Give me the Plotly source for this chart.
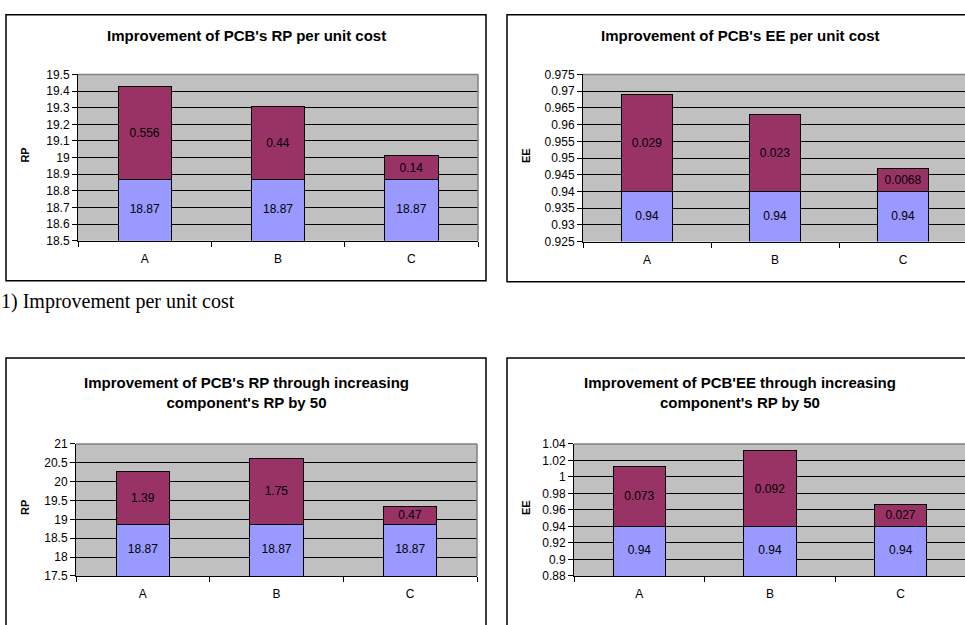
import plotly.graph_objects as go

W, H = 965, 625

categories = ["A", "B", "C"]

rp_cost_base = [18.87, 18.87, 18.87]
rp_cost_gain = [0.556, 0.44, 0.14]
ee_cost_base = [0.94, 0.94, 0.94]
ee_cost_gain = [0.029, 0.023, 0.0068]
rp_inc_base = [18.87, 18.87, 18.87]
rp_inc_gain = [1.39, 1.75, 0.47]
ee_inc_base = [0.94, 0.94, 0.94]
ee_inc_gain = [0.073, 0.092, 0.027]

base_labels_rp = ["18.87", "18.87", "18.87"]
gain_labels_rp_cost = ["0.556", "0.44", "0.14"]
base_labels_ee = ["0.94", "0.94", "0.94"]
gain_labels_ee_cost = ["0.029", "0.023", "0.0068"]
gain_labels_rp_inc = ["1.39", "1.75", "0.47"]
gain_labels_ee_inc = ["0.073", "0.092", "0.027"]

titles = [
    "Improvement of PCB's RP per unit cost",
    "Improvement of PCB's EE per unit cost",
    "Improvement of PCB's RP through increasing<br>component's RP by 50",
    "Improvement of PCB'EE through increasing<br>component's RP by 50",
]
ytitles = ["RP", "EE", "RP", "EE"]
caption = "1) Improvement per unit cost"

BLUE = "#9999FF"
PLUM = "#993366"
GRID = "#C0C0C0"
FONT = "Liberation Sans, Arial, sans-serif"

def px(x):
    return x / W

def py(y):
    return 1 - y / H

panels = [
    dict(pa=(78, 478, 69, 239), yr=(18.5, 19.5), dt=0.1, box=(6, 486, 8, 280),
         base=rp_cost_base, gain=rp_cost_gain, bl=base_labels_rp, gl=gain_labels_rp_cost, ty=29, ytx=25),
    dict(pa=(583, 967, 69, 240), yr=(0.925, 0.975), dt=0.005, box=(507, 973, 8, 281),
         base=ee_cost_base, gain=ee_cost_gain, bl=base_labels_ee, gl=gain_labels_ee_cost, ty=29, ytx=526),
    dict(pa=(76, 477, 447, 582), yr=(17.5, 21), dt=0.5, box=(6, 486, 359, 640),
         base=rp_inc_base, gain=rp_inc_gain, bl=base_labels_rp, gl=gain_labels_rp_inc, ty=394, ytx=25),
    dict(pa=(574, 966, 447, 582), yr=(0.88, 1.04), dt=0.02, box=(507, 973, 359, 640),
         base=ee_inc_base, gain=ee_inc_gain, bl=base_labels_ee, gl=gain_labels_ee_inc, ty=394, ytx=526),
]

fig = go.Figure()
shapes = []
annotations = []

for i, p in enumerate(panels):
    n = "" if i == 0 else str(i + 1)
    xa, ya = "x" + n, "y" + n
    x0, x1, yt, yb = p["pa"]
    spacing = (x1 - x0) / 3.0
    visible_right = min(x1, W)
    xmax = -0.5 + (visible_right - x0) / spacing
    ymin = p["yr"][0]

    fig.add_trace(go.Bar(
        x=categories, y=p["base"], xaxis=xa, yaxis=ya,
        marker=dict(color=BLUE, line=dict(color="#000000", width=1)),
        width=0.4, showlegend=False, hoverinfo="skip",
    ))
    fig.add_trace(go.Bar(
        x=categories, y=p["gain"], xaxis=xa, yaxis=ya,
        marker=dict(color=PLUM, line=dict(color="#000000", width=1)),
        text=p["gl"], textposition="inside", insidetextanchor="middle",
        textfont=dict(family=FONT, size=12, color="#000000"),
        constraintext="none", width=0.4, showlegend=False, hoverinfo="skip",
    ))
    fig.add_trace(go.Scatter(
        x=categories, y=[(ymin + b) / 2.0 for b in p["base"]], xaxis=xa, yaxis=ya,
        mode="text", text=p["bl"], textposition="middle center",
        textfont=dict(family=FONT, size=12, color="#000000"),
        showlegend=False, hoverinfo="skip", cliponaxis=False,
    ))

    fig.layout["xaxis" + n] = dict(
        domain=[px(x0), px(visible_right)], anchor=ya, type="category",
        range=[-0.5, xmax], tickson="boundaries", ticks="outside", ticklen=5,
        tickcolor="#000000", showline=True, linecolor="#000000", linewidth=1,
        showgrid=False, tickfont=dict(family=FONT, size=12, color="#000000"),
        ticklabelstandoff=7, fixedrange=True,
    )
    fig.layout["yaxis" + n] = dict(
        domain=[py(yb), py(yt)], anchor=xa, range=list(p["yr"]), dtick=p["dt"],
        tick0=ymin, ticks="outside", ticklen=5, tickcolor="#000000",
        showline=True, linecolor="#000000", linewidth=1,
        showgrid=True, gridcolor="#000000", gridwidth=1, zeroline=False,
        tickfont=dict(family=FONT, size=12, color="#000000"), fixedrange=True,
    )

    shapes.append(dict(type="rect", xref="paper", yref="paper", layer="below",
                       x0=px(x0), x1=px(visible_right), y0=py(yb), y1=py(yt),
                       fillcolor=GRID, line=dict(width=0)))
    shapes.append(dict(type="line", xref="paper", yref="paper",
                       x0=px(x0), x1=px(visible_right), y0=py(yt), y1=py(yt),
                       line=dict(color="#808080", width=1.5)))
    if x1 <= W:
        shapes.append(dict(type="line", xref="paper", yref="paper",
                           x0=px(x1), x1=px(x1), y0=py(yb), y1=py(yt),
                           line=dict(color="#808080", width=1.5)))
    bx0, bx1, by0, by1 = p["box"]
    shapes.append(dict(type="rect", xref="paper", yref="paper",
                       x0=px(bx0), x1=px(bx1), y0=py(by1), y1=py(by0),
                       line=dict(color="#000000", width=1.5), fillcolor="rgba(0,0,0,0)"))
    cx = (bx0 + bx1) / 2.0
    annotations.append(dict(text="<b>" + titles[i] + "</b>", xref="paper", yref="paper",
                            x=px(cx), y=py(p["ty"]), xanchor="center", yanchor="middle",
                            showarrow=False, font=dict(family=FONT, size=15, color="#000000")))
    annotations.append(dict(text="<b>" + ytitles[i] + "</b>", xref="paper", yref="paper",
                            x=px(p["ytx"]), y=py((yt + yb) / 2.0 - 2), xanchor="center", yanchor="middle",
                            textangle=-90, showarrow=False,
                            font=dict(family=FONT, size=11, color="#000000")))

annotations.append(dict(text=caption, xref="paper", yref="paper", x=px(-1), y=py(301),
                        xanchor="left", yanchor="middle", showarrow=False,
                        font=dict(family="Liberation Serif, Times New Roman, serif", size=20, color="#000000")))

fig.update_layout(
    width=W, height=H, margin=dict(l=0, r=0, t=0, b=0),
    paper_bgcolor="#FFFFFF", plot_bgcolor="rgba(0,0,0,0)",
    barmode="stack", bargap=0.6, shapes=shapes, annotations=annotations,
)

fig.write_html("out.html", config={"displayModeBar": False},
               post_script="document.body.style.margin='0';document.body.style.overflow='hidden';")
